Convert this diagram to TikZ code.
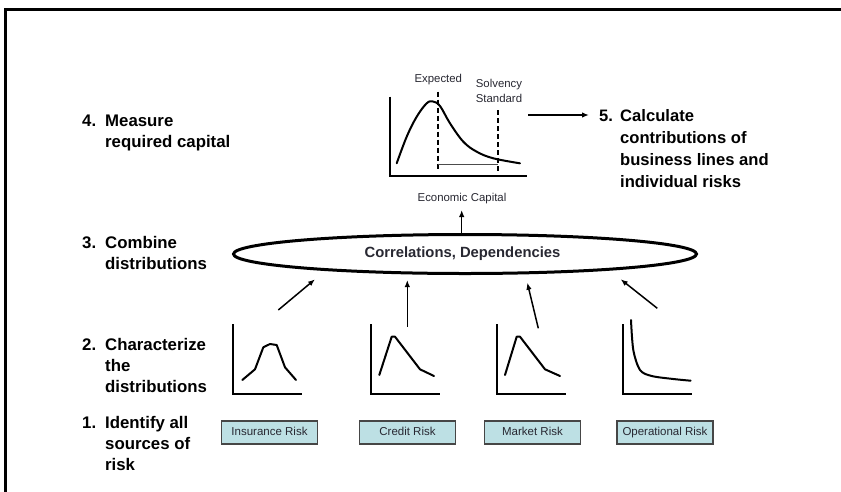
\documentclass[tikz,border=0pt]{standalone}
\usepackage{fontspec}
\setmainfont{Liberation Sans}
\usetikzlibrary{shapes.geometric,arrows.meta}
\definecolor{boxfill}{RGB}{189,224,228}
\definecolor{boxline}{RGB}{70,70,70}
\definecolor{txt}{RGB}{40,40,50}
\begin{document}
\begin{tikzpicture}[x=1pt,y=-1pt,
  steplabel/.style={anchor=base west, align=left, font=\fontsize{16.8}{21}\selectfont\bfseries, inner sep=0},
  riskbox/.style={draw=boxline, fill=boxfill, line width=1.2pt, minimum width=96pt, minimum height=23pt, inner sep=0, text height=8.2pt, text depth=2.4pt, font=\fontsize{11.5}{14}\selectfont, text=txt},
  arr/.style={line width=1.5pt, -{Latex[length=7pt,width=5.5pt]}},
  curve/.style={line width=2pt, line join=round, line cap=round},
  axis/.style={line width=2pt},
  dashline/.style={line width=2pt, dash pattern=on 5pt off 3pt},
  small/.style={font=\fontsize{11.4}{14.3}\selectfont, text=txt, inner sep=0, align=center}]

\useasboundingbox (0,0) rectangle (841,491);
\fill[white] (0,0) rectangle (841,491);
\draw[line width=2.8pt] (5.3,495) -- (5.3,9.3) -- (845,9.3);

% step labels (anchored at the baseline of their last line)
\node[steplabel] (s4) at (82,147) {\makebox[23pt][l]{4.}Measure\\\hspace*{23pt}required capital};
\node[steplabel] (s3) at (82,269) {\makebox[23pt][l]{3.}Combine\\\hspace*{23pt}distributions};
\node[steplabel] (s2) at (82,392) {\makebox[23pt][l]{2.}Characterize\\\hspace*{23pt}the\\\hspace*{23pt}distributions};
\node[steplabel] (s1) at (82,470) {\makebox[23pt][l]{1.}Identify all\\\hspace*{23pt}sources of\\\hspace*{23pt}risk};
\node[steplabel, font=\fontsize{16.6}{22}\selectfont\bfseries] (s5) at (599,187.5) {\makebox[21pt][l]{5.}Calculate\\\hspace*{21pt}contributions of\\\hspace*{21pt}business lines and\\\hspace*{21pt}individual risks};

% risk boxes
\node[riskbox] (ins) at (269.5,432.5) {Insurance Risk};
\node[riskbox] (cred) at (407.5,432.5) {Credit Risk};
\node[riskbox] (mkt) at (532.5,432.5) {Market Risk};
\node[riskbox] (ops) at (665,432.5) {Operational Risk};

% small distribution charts
\draw[axis] (233,324) -- (233,394) -- (302,394);
\draw[curve] (242.3,380) -- (255,369.3) -- (263.3,347.3) -- (270,344) -- (276.7,345) -- (285,367.3) -- (296,380);
\draw[axis] (371.3,324) -- (371.3,394) -- (440,394);
\draw[curve] (379.3,375) -- (391.7,336.7) -- (395,336.7) -- (420,369.3) -- (434,376);
\draw[axis] (497.3,324) -- (497.3,394) -- (566,394);
\draw[curve] (505,375) -- (516.7,336.7) -- (520,336.7) -- (545,369.3) -- (560,376);
\draw[axis] (623.3,324) -- (623.3,394) -- (692.3,394);
\draw[curve] plot[smooth, tension=0.5] coordinates {(631,320) (633.3,350) (640,370) (651.7,376) (673.3,379) (690.7,380.7)};

% ellipse
\node[draw, ellipse, line width=3pt, minimum width=463pt, minimum height=39pt, inner sep=0, font=\fontsize{14.8}{17}\selectfont\bfseries, text=txt] (corr) at (465,254) {Correlations, Dependencies\hspace*{5pt}};

% arrows into ellipse
\coordinate (a1) at (278.3,310); \coordinate (e1) at (315,279.3);
\coordinate (a2) at (407.3,326.7); \coordinate (e2) at (407.3,280);
\coordinate (a3) at (538.3,328.3); \coordinate (e3) at (527.3,282.7);
\coordinate (a4) at (657.3,308.3); \coordinate (e4) at (620.7,279.3);
\draw[arr] (a1) -- (e1);
\draw[arr] (a2) -- (e2);
\draw[arr] (a3) -- (e3);
\draw[arr] (a4) -- (e4);

% economic capital
\node[small] (econ) at (462,198.5) {Economic Capital};
\coordinate (etop) at (461.7,233); \coordinate (eup) at (461.7,210);
\draw[arr] (etop) -- (eup);

% big chart
\draw[axis] (390,96.7) -- (390,176) -- (526.7,176);
\draw[curve] plot[smooth, tension=0.6] coordinates {(396.7,163.3) (406.7,136.7) (416.7,116.7) (426.7,103.3) (433,101.5) (440,106) (450,123.3) (463.3,141.7) (476.7,151.7) (493.3,158.3) (520,163.3)};
\draw[dashline] (437.7,91.7) -- (437.7,170);
\draw[dashline] (497.7,110) -- (497.7,173.3);
\draw[line width=0.8pt, black!70] (437.7,164.3) -- (497.7,164.3);
\node[small] (expl) at (438.3,79.3) {Expected};
\node[small] (solv) at (499,91) {Solvency\\Standard};

% arrow to step 5
\coordinate (c5a) at (528.3,115); \coordinate (c5b) at (589,115);
\draw[arr] (c5a) -- (c5b);
\end{tikzpicture}
\end{document}
